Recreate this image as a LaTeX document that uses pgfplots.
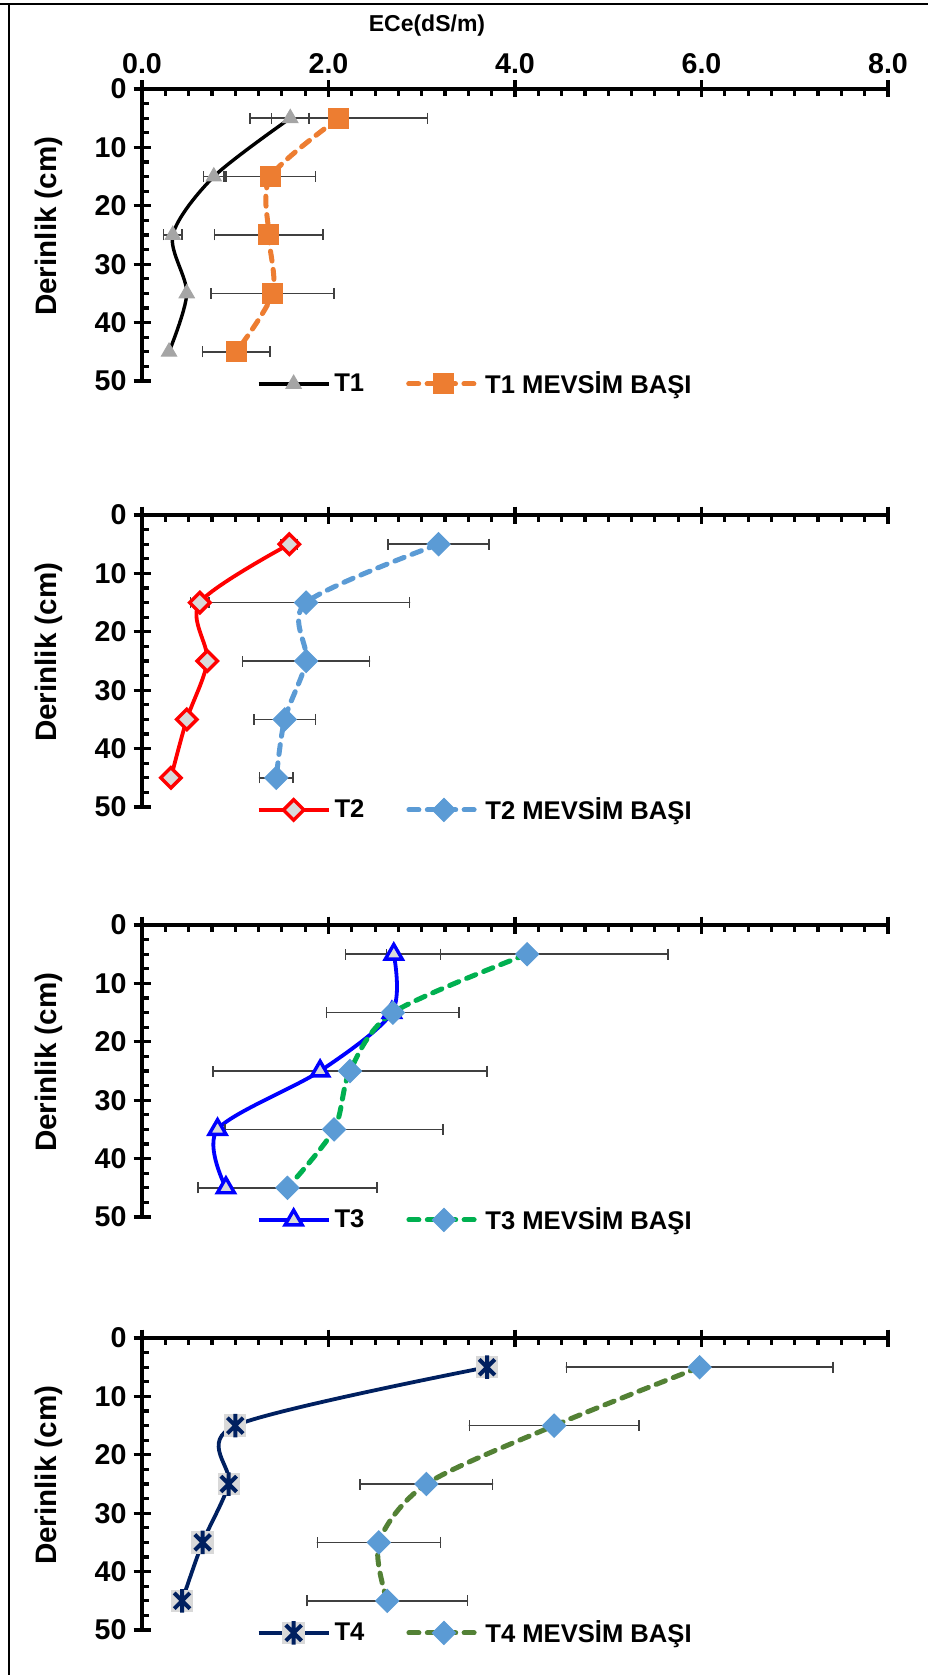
\documentclass[border=0pt]{standalone}
\usepackage{pgfplots}
\pgfplotsset{compat=1.18}
\usepackage{fontspec}
\setmainfont{Liberation Sans}
\definecolor{mgray}{HTML}{A5A5A5}
\definecolor{lgray}{HTML}{D9D9D9}
\definecolor{xorange}{HTML}{ED7D31}
\definecolor{xblue}{HTML}{5B9BD5}
\definecolor{xred}{HTML}{FF0000}
\definecolor{pblue}{HTML}{0000FF}
\definecolor{xgreen}{HTML}{00B050}
\definecolor{xnavy}{HTML}{002060}
\definecolor{dgreen}{HTML}{538135}
\definecolor{errgray}{HTML}{404040}

\pgfdeclareplotmark{xstar}{%
  \pgfpathrectangle{\pgfqpoint{-\pgfplotmarksize}{-\pgfplotmarksize}}{\pgfqpoint{2\pgfplotmarksize}{2\pgfplotmarksize}}%
  \pgfsetfillcolor{lgray}\pgfusepathqfill
  \pgfpathmoveto{\pgfqpoint{-0.7\pgfplotmarksize}{-0.7\pgfplotmarksize}}%
  \pgfpathlineto{\pgfqpoint{0.7\pgfplotmarksize}{0.7\pgfplotmarksize}}%
  \pgfpathmoveto{\pgfqpoint{-0.7\pgfplotmarksize}{0.7\pgfplotmarksize}}%
  \pgfpathlineto{\pgfqpoint{0.7\pgfplotmarksize}{-0.7\pgfplotmarksize}}%
  \pgfpathmoveto{\pgfqpoint{0pt}{-1.05\pgfplotmarksize}}%
  \pgfpathlineto{\pgfqpoint{0pt}{1.05\pgfplotmarksize}}%
  \pgfusepathqstroke}

\pgfplotsset{
  panel/.style={
    scale only axis, width=373pt, height=146pt,
    xmin=0, xmax=8, ymin=-50, ymax=0, clip=false,
    axis x line=top, axis y line=left,
    axis line style={-, line width=1.7pt, black},
    xtick={0,2,4,6,8},
    ytick={-50,-40,-30,-20,-10,0},
    yticklabels={50,40,30,20,10,0},
    minor x tick num=7, minor y tick num=3,
    tick align=center,
    major tick length=8.5pt, minor tick length=3.4pt,
    every tick/.style={line width=1.6pt, black},
    every minor x tick/.append style={yshift=-1.7pt},
    every minor y tick/.append style={xshift=1.7pt},
    ticklabel style={font=\fontsize{14.3}{14}\selectfont\bfseries},
    ylabel={Derinlik (cm)},
    ylabel style={at={(axis description cs:-0.125,0.53)}, anchor=center, font=\fontsize{14.8}{15}\selectfont\bfseries},
    xlabel style={at={(axis description cs:0.382,1.216)}, anchor=center, font=\fontsize{11.5}{12}\selectfont\bfseries},
    legend style={at={(axis description cs:0.448,-0.01)}, anchor=center, draw=none, fill=none,
      font=\fontsize{12.8}{14}\selectfont\bfseries, inner sep=0pt,
      /tikz/every even column/.append style={column sep=19pt}},
    legend columns=2,
    legend cell align=left,
    legend image code/.code={\draw[mark repeat=2,mark phase=2,#1] plot coordinates {(0pt,0pt) (17.5pt,0pt) (35pt,0pt)};},
  },
  dashline/.style={line width=2.5pt, dash pattern=on 5pt off 4.2pt, line cap=round, smooth},
  ebars/.style={error bars/.cd, x dir=both, x explicit, error mark=|,
    error bar style={draw=errgray, solid, line width=0.75pt},
    error mark options={draw=errgray, solid, line width=0.75pt, mark size=2.75pt}},
  xdiamond/.style={mark=square*, mark size=4.1pt, mark options={solid, rotate=45, fill=xblue, draw=xblue, line width=0.5pt}},
}

\begin{document}
\begin{tikzpicture}
\path[use as bounding box] (0,0) rectangle (464pt,-837.5pt);
\draw[line width=1.2pt] (0,-2pt) -- (464pt,-2pt);
\draw[line width=1.2pt] (4.5pt,-2pt) -- (4.5pt,-837.5pt);

% Panel 1
\begin{axis}[panel, at={(71pt,-44.5pt)}, anchor=north west,
  xticklabels={0.0,2.0,4.0,6.0,8.0}, xlabel={ECe(dS/m)}]
\addplot[draw=none, mark=none, forget plot, ebars] coordinates {(1.59,-5) +- (0.2,0) (0.77,-15) +- (0.11,0) (0.33,-25) +- (0.1,0)};
\addplot[black, line width=1.7pt, smooth, mark=triangle*, mark size=4.4pt, mark options={fill=mgray, draw=mgray, line width=0.5pt}]
  coordinates {(1.59,-5) (0.77,-15) (0.33,-25) (0.48,-35) (0.29,-45)};
\addlegendentry{T1}
\addplot[xorange, dashline, mark=square*, mark size=5pt, mark options={solid, fill=xorange, draw=xorange, line width=0.5pt}, ebars]
  coordinates {(2.11,-5) +- (0.95,0) (1.38,-15) +- (0.48,0) (1.36,-25) +- (0.58,0) (1.40,-35) +- (0.66,0) (1.01,-45) +- (0.36,0)};
\addlegendentry{T1 MEVSİM BAŞI}
\end{axis}

% Panel 2
\begin{axis}[panel, at={(71pt,-257.5pt)}, anchor=north west, xticklabels={}]
\addplot[draw=none, mark=none, forget plot, ebars] coordinates {(1.58,-5) +- (0.09,0) (0.62,-15) +- (0.1,0)};
\addplot[xred, line width=1.9pt, smooth, mark=square*, mark size=3.6pt, mark options={rotate=45, fill=lgray, draw=xred, line width=1.7pt}]
  coordinates {(1.58,-5) (0.62,-15) (0.70,-25) (0.48,-35) (0.31,-45)};
\addlegendentry{T2}
\addplot[xblue, dashline, xdiamond, ebars]
  coordinates {(3.18,-5) +- (0.54,0) (1.76,-15) +- (1.11,0) (1.76,-25) +- (0.68,0) (1.53,-35) +- (0.33,0) (1.44,-45) +- (0.18,0)};
\addlegendentry{T2 MEVSİM BAŞI}
\end{axis}

% Panel 3
\begin{axis}[panel, at={(71pt,-462.5pt)}, anchor=north west, xticklabels={}]
\addplot[draw=none, mark=none, forget plot, ebars] coordinates {(2.69,-5) +- (0.51,0)};
\addplot[pblue, line width=1.9pt, smooth, mark=triangle*, mark size=4.9pt, mark options={fill=lgray, draw=pblue, line width=1.7pt}]
  coordinates {(2.70,-5) (2.68,-15) (1.91,-25) (0.81,-35) (0.90,-45)};
\addlegendentry{T3}
\addplot[xgreen, dashline, xdiamond, ebars]
  coordinates {(4.13,-5) +- (1.51,0) (2.69,-15) +- (0.71,0) (2.23,-25) +- (1.47,0) (2.06,-35) +- (1.17,0) (1.56,-45) +- (0.96,0)};
\addlegendentry{T3 MEVSİM BAŞI}
\end{axis}

% Panel 4
\begin{axis}[panel, at={(71pt,-669pt)}, anchor=north west, xticklabels={}]
\addplot[xnavy, line width=1.9pt, smooth, mark=xstar, mark size=5.6pt, mark options={draw=xnavy, line width=2pt}]
  coordinates {(3.70,-5) (1.00,-15) (0.93,-25) (0.65,-35) (0.43,-45)};
\addlegendentry{T4}
\addplot[dgreen, dashline, xdiamond, ebars]
  coordinates {(5.98,-5) +- (1.43,0) (4.42,-15) +- (0.91,0) (3.05,-25) +- (0.71,0) (2.54,-35) +- (0.66,0) (2.63,-45) +- (0.86,0)};
\addlegendentry{T4 MEVSİM BAŞI}
\end{axis}
\end{tikzpicture}
\end{document}
